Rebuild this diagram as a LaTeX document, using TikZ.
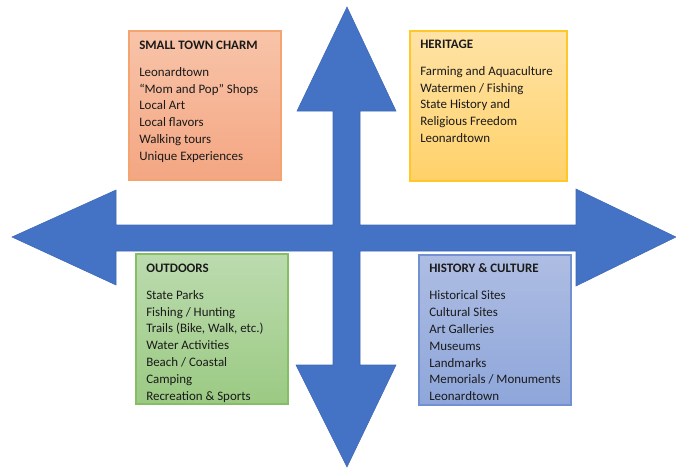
\documentclass[tikz,border=0pt]{standalone}
\usepackage{fontspec}
\setmainfont{Carlito}
\usetikzlibrary{positioning}
\definecolor{arrowblue}{HTML}{4472C4}
\definecolor{arrowedge}{HTML}{3F69B5}
\definecolor{orTop}{HTML}{F8C4A9}
\definecolor{orBot}{HTML}{F4A682}
\definecolor{orEdge}{HTML}{F4A470}
\definecolor{yeTop}{HTML}{FFE3A6}
\definecolor{yeBot}{HTML}{FFD169}
\definecolor{yeEdge}{HTML}{FFC727}
\definecolor{grTop}{HTML}{BCDBAF}
\definecolor{grBot}{HTML}{9BCA83}
\definecolor{grEdge}{HTML}{86BE66}
\definecolor{blTop}{HTML}{AEBDE3}
\definecolor{blBot}{HTML}{8EA6DA}
\definecolor{blEdge}{HTML}{7191D3}
\definecolor{txt}{HTML}{1A1A1A}
\tikzset{
  x=0.75pt, y=-0.75pt,
  panel/.style={draw=#1Edge, line width=0.9pt, top color=#1Top, bottom color=#1Bot, inner sep=0pt, outer sep=0pt},
  listtext/.style={anchor=north west, align=left, inner sep=0pt, text=txt,
    font=\fontsize{9.7pt}{12.6pt}\selectfont},
}
\newcommand{\ttl}[1]{\textbf{#1}\\[7.6pt]}
\begin{document}
\begin{tikzpicture}
\useasboundingbox (0,0) rectangle (676,468);
% four-way arrow
\draw[fill=arrowblue, draw=arrowedge, line width=0.4pt, line join=miter]
  (347,7) -- (396,111) -- (360,111) -- (360,225) -- (576,225) -- (576,189)
  -- (676,237) -- (576,286) -- (576,251) -- (360,251) -- (360,365)
  -- (396,365) -- (347,467) -- (296,365) -- (333,365) -- (333,251)
  -- (116,251) -- (116,285) -- (12,237) -- (116,190) -- (116,225)
  -- (333,225) -- (333,111) -- (297,111) -- cycle;
% panels
\path[panel=or] (129,31) rectangle (281,180);
\path[panel=ye] (410,31) rectangle (567,181);
\path[panel=gr] (136,254) rectangle (288,404);
\path[panel=bl] (419,255) rectangle (571,405);
% texts
\node[listtext] (charm) at (139,40.7) {\ttl{SMALL TOWN CHARM}Leonardtown\\“Mom and Pop” Shops\\Local Art\\Local flavors\\Walking tours\\Unique Experiences};
\node[listtext] (heritage) at (420,39.7) {\ttl{HERITAGE}Farming and Aquaculture\\Watermen / Fishing\\State History and\\Religious Freedom\\Leonardtown};
\node[listtext] (outdoors) at (146,263.7) {\ttl{OUTDOORS}State Parks\\Fishing / Hunting\\Trails (Bike, Walk, etc.)\\Water Activities\\Beach / Coastal\\Camping\\Recreation \& Sports};
\node[listtext] (history) at (429,263.7) {\ttl{HISTORY \& CULTURE}Historical Sites\\Cultural Sites\\Art Galleries\\Museums\\Landmarks\\Memorials / Monuments\\Leonardtown};
\end{tikzpicture}
\end{document}
